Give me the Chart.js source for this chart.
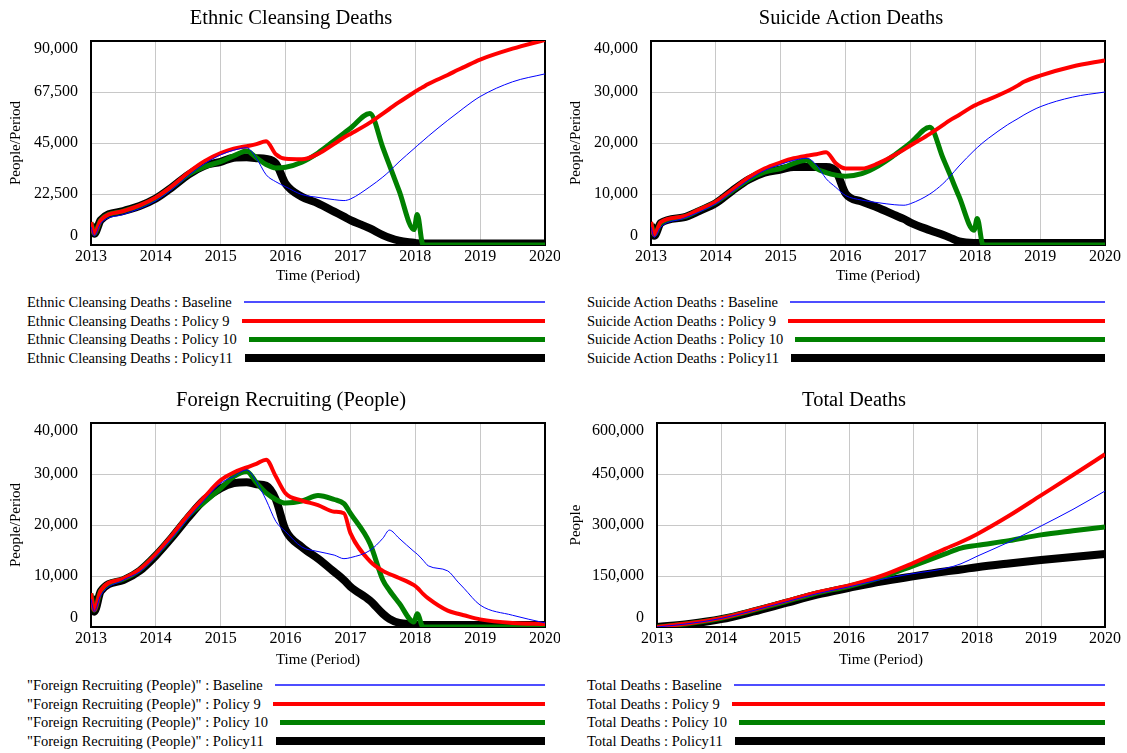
<!DOCTYPE html>
<html>
<head>
<meta charset="utf-8">
<script src="https://cdn.jsdelivr.net/npm/chart.js@4/dist/chart.umd.min.js"></script>
<style>
  body { margin: 0; background: #fff; width: 1127px; height: 753px; position: relative; overflow: hidden;
         font-family: "Liberation Serif", "Times New Roman", serif; }
  .panel { position: absolute; }
  .legend { position: absolute; width: 518px; font-size: 14.5px; color: #000; }
  .legend .row { display: flex; align-items: center; height: 18.7px; white-space: nowrap; }
  .legend .swatch { flex: 1; margin-left: 12px; }
</style>
</head>
<body>
<div class="panel" style="left:0;top:0;width:560px;height:286px"><canvas id="ecChart"></canvas></div>
<div class="panel" style="left:560px;top:0;width:567px;height:286px"><canvas id="saChart"></canvas></div>
<div class="panel" style="left:0;top:380px;width:560px;height:290px"><canvas id="frChart"></canvas></div>
<div class="panel" style="left:560px;top:380px;width:567px;height:290px"><canvas id="tdChart"></canvas></div>
<div class="legend" id="ecLegend" style="left:27px;top:293px"></div>
<div class="legend" id="saLegend" style="left:587px;top:293px"></div>
<div class="legend" id="frLegend" style="left:27px;top:676px"></div>
<div class="legend" id="tdLegend" style="left:587px;top:676px"></div>
<script>
// time samples (years) used by the first three charts
const times = [2013.00, 2013.05, 2013.15, 2013.5, 2013.75, 2014.0, 2014.25, 2014.5, 2014.75,
  2015.0, 2015.2, 2015.4, 2015.55, 2015.7, 2015.85, 2016.0, 2016.25, 2016.5, 2016.75, 2016.9,
  2017.0, 2017.3, 2017.5, 2017.6, 2017.75, 2017.98, 2018.03, 2018.12, 2018.2, 2018.5, 2018.66,
  2018.75, 2019.0, 2019.5, 2020.0];
const totalTimes = [2013, 2013.5, 2014, 2014.5, 2015, 2015.5, 2016, 2016.5, 2017, 2017.5, 2017.75,
  2018, 2018.5, 2019, 2019.5, 2020];

const runNames = ['Baseline', 'Policy 9', 'Policy 10', 'Policy11'];

// Ethnic Cleansing Deaths
const ecBaseline = [8000, 4000, 9500, 13500, 16000, 19500, 24500, 30500, 35800, 39800, 41800, 42900,
  38300, 31000, 27900, 25700, 22300, 21000, 20000, 19600, 20300, 25700, 30000, 32500, 36700, 42500,
  43800, 46000, 48000, 55000, 58500, 60500, 65500, 72000, 75500];
const ecPolicy9 = [10000, 5000, 11000, 15000, 17500, 21000, 26000, 32000, 37000, 40500, 42500, 43600,
  44500, 45800, 40000, 38000, 37800, 40200, 44600, 47400, 49000, 54000, 58000, 60000, 63000, 67300,
  68200, 69700, 71000, 75000, 77300, 78500, 81800, 86600, 90500];
const ecPolicy10 = [10000, 5000, 11000, 15000, 17300, 20700, 25700, 31000, 34500, 36800, 39300, 41500,
  38500, 35500, 34000, 34300, 36500, 40600, 46000, 49300, 51500, 58000, 43000, 35300, 24000, 6800,
  13500, 0, 0, 0, 0, 0, 0, 0, 0];
const ecPolicy11 = [9000, 5000, 11000, 15000, 17200, 20500, 25500, 31000, 35000, 36700, 38500, 38700,
  38300, 38000, 36000, 27000, 21300, 18400, 14700, 12500, 11000, 7300, 4400, 3200, 1900, 1000,
  800, 700, 700, 700, 700, 700, 700, 700, 700];

// Suicide Action Deaths
const saBaseline = [3500, 1500, 3500, 5200, 6500, 8100, 10400, 12700, 14600, 15800, 16600, 17000,
  15700, 13000, 11300, 9700, 8800, 8300, 7900, 7800, 8100, 10000, 12000, 13300, 15500, 18500,
  19100, 20100, 20900, 23600, 24800, 25500, 27100, 29000, 30000];
const saPolicy9 = [4500, 2000, 4500, 5600, 7000, 8500, 10800, 13200, 15000, 16200, 17000, 17500,
  17800, 18200, 16000, 15000, 15000, 16000, 17600, 18700, 19500, 21800, 23500, 24400, 25500, 27300,
  27600, 28100, 28500, 30200, 31300, 32000, 33200, 35000, 36200];
const saPolicy10 = [4300, 2000, 4300, 5500, 6900, 8400, 10600, 12800, 14300, 15000, 16000, 16600,
  15000, 14200, 13700, 13500, 14000, 15500, 17600, 19000, 20000, 23100, 17100, 14100, 9500, 2900,
  5200, 0, 0, 0, 0, 0, 0, 0, 0];
const saPolicy11 = [4000, 1800, 4300, 5400, 6700, 8200, 10600, 12800, 14200, 14800, 15300, 15300,
  15300, 15300, 14500, 10100, 8500, 7300, 5900, 5100, 4400, 2900, 2000, 1500, 700, 400,
  400, 400, 400, 400, 400, 400, 400, 400, 400];

// Foreign Recruiting (People)
const frBaseline = [5500, 3000, 6200, 9200, 10800, 13800, 17400, 21300, 24900, 28200, 29500, 30800,
  28500, 24900, 20700, 18700, 15700, 14800, 14100, 13400, 13600, 15000, 17400, 19000, 17400, 14800,
  14300, 13100, 12000, 11000, 8800, 7600, 4300, 2300, 800];
const frPolicy9 = [6600, 3300, 7200, 9500, 11300, 14300, 18000, 22000, 25500, 28800, 30300, 31300,
  32000, 32800, 29500, 26200, 24800, 23900, 22600, 22300, 18400, 12900, 11000, 10400, 9600, 8200,
  7700, 6500, 5600, 3200, 2600, 2300, 1500, 800, 600];
const frPolicy10 = [6500, 3300, 7100, 9400, 11200, 14200, 17800, 21800, 24500, 27200, 29500, 30500,
  28300, 26300, 25000, 24300, 24700, 25800, 25000, 24200, 22300, 16400, 9200, 7200, 4700, 1000,
  2600, 0, 0, 0, 0, 0, 0, 0, 0];
const frPolicy11 = [6000, 3000, 7000, 9200, 11000, 14000, 17600, 21500, 25000, 27200, 28200, 28400,
  28000, 27700, 25000, 19000, 15700, 13400, 10800, 9200, 7900, 5200, 2600, 1600, 800, 500,
  400, 400, 400, 400, 400, 400, 400, 400, 400];

// Total Deaths
const tdBaseline = [0, 10000, 25000, 48000, 73000, 98000, 118000, 140000, 157000, 172000, 186000,
  208000, 250000, 297000, 346000, 400000];
const tdPolicy9 = [0, 11000, 26000, 50000, 76000, 102000, 122000, 150000, 188000, 230000, 250000,
  273000, 327000, 387000, 447000, 508000];
const tdPolicy10 = [0, 10500, 25500, 49000, 74000, 100000, 120000, 146000, 180000, 215000, 232000,
  240000, 254000, 271000, 283000, 294000];
const tdPolicy11 = [0, 9000, 23000, 45000, 70000, 95000, 115000, 134000, 149000, 163000, 169000,
  176000, 187000, 197000, 206000, 215000];

// line look for each run (baseline drawn on top)
const runColors = ['#0000ff', '#ff0000', '#008000', '#000000'];
const legendColors = ['#4d4dff', '#ff0000', '#008000', '#000000'];
const runWidths = [1, 4, 5, 8];
const legendWidths = [2, 4, 5, 8];

Chart.defaults.font.family = '"Liberation Serif", "Times New Roman", serif';
Chart.defaults.color = '#000';

// Vensim style: frame, title and y labels kept inside the frame
const vensimPlugin = {
    id: 'vensim',
    beforeDatasetsDraw(chart) {
        const {ctx, chartArea: a} = chart;
        ctx.save();
        ctx.strokeStyle = '#000';
        ctx.lineWidth = 2;
        ctx.strokeRect(a.left, a.top, a.right - a.left, a.bottom - a.top);
        ctx.restore();
    },
    afterDraw(chart, args, opts) {
        const {ctx, chartArea: a} = chart;
        const y = chart.scales.y;
        ctx.save();
        ctx.fillStyle = '#000';
        ctx.font = '16px "Liberation Serif"';
        ctx.textAlign = 'right';
        ctx.textBaseline = 'middle';
        y.ticks.forEach(t => {
            let py = y.getPixelForValue(t.value);
            py = Math.min(Math.max(py, a.top + 8), a.bottom - 9);
            ctx.fillText(t.value.toLocaleString('en-US'), a.left - 13, py);
        });
        ctx.font = '20.5px "Liberation Serif"';
        ctx.textAlign = 'center';
        ctx.fillText(opts.text, (a.left + a.right) / 2 - 27, a.top - 22);
        ctx.restore();
    }
};

function makeChart(id, title, yTitle, xs, series, yMax, yStep, box) {
    const datasets = series.map((vals, i) => ({
        label: runNames[i],
        data: xs.map((t, j) => ({x: t, y: vals[j]})),
        borderColor: runColors[i],
        borderWidth: runWidths[i],
        pointRadius: 0,
        cubicInterpolationMode: 'monotone',
        fill: false
    }));
    return new Chart(document.getElementById(id), {
        type: 'line',
        data: {datasets: datasets},
        plugins: [vensimPlugin],
        options: {
            responsive: true,
            maintainAspectRatio: false,
            animation: false,
            layout: {padding: {top: box.top, right: box.right, left: 0, bottom: 0}},
            plugins: {
                legend: {display: false},
                tooltip: {enabled: false},
                vensim: {text: title}
            },
            scales: {
                x: {
                    type: 'linear',
                    min: 2013,
                    max: 2020,
                    ticks: {stepSize: 1, padding: 2, font: {size: 16}, callback: v => String(v)},
                    grid: {color: '#c8c8c8', drawTicks: false},
                    border: {display: false},
                    title: {display: true, text: 'Time (Period)', font: {size: 15}, padding: {top: 0, bottom: 1}},
                    afterFit: s => { s.height = box.xh; s.paddingLeft = 0; s.paddingRight = 0; }
                },
                y: {
                    min: 0,
                    max: yMax,
                    ticks: {stepSize: yStep, display: false},
                    grid: {color: '#c8c8c8', drawTicks: false},
                    border: {display: false},
                    title: {display: true, text: yTitle, font: {size: 15}, padding: {top: 7, bottom: 0}},
                    afterFit: s => { s.width = box.yw; }
                }
            }
        }
    });
}

function makeLegend(id, prefix) {
    const el = document.getElementById(id);
    runNames.forEach((name, i) => {
        const row = document.createElement('div');
        row.className = 'row';
        const label = document.createElement('span');
        label.textContent = `${prefix} : ${name}`;
        const swatch = document.createElement('div');
        swatch.className = 'swatch';
        swatch.style.height = legendWidths[i] + 'px';
        swatch.style.background = legendColors[i];
        row.appendChild(label);
        row.appendChild(swatch);
        el.appendChild(row);
    });
}

makeChart('ecChart', 'Ethnic Cleansing Deaths', 'People/Period', times,
    [ecBaseline, ecPolicy9, ecPolicy10, ecPolicy11], 90000, 22500, {top: 41, right: 15, xh: 41, yw: 91});
makeChart('saChart', 'Suicide Action Deaths', 'People/Period', times,
    [saBaseline, saPolicy9, saPolicy10, saPolicy11], 40000, 10000, {top: 41, right: 22, xh: 41, yw: 91});
makeChart('frChart', 'Foreign Recruiting (People)', 'People/Period', times,
    [frBaseline, frPolicy9, frPolicy10, frPolicy11], 40000, 10000, {top: 43, right: 15, xh: 43, yw: 91});
makeChart('tdChart', 'Total Deaths', 'People', totalTimes,
    [tdBaseline, tdPolicy9, tdPolicy10, tdPolicy11], 600000, 150000, {top: 43, right: 22, xh: 43, yw: 97});

makeLegend('ecLegend', 'Ethnic Cleansing Deaths');
makeLegend('saLegend', 'Suicide Action Deaths');
makeLegend('frLegend', '"Foreign Recruiting (People)"');
makeLegend('tdLegend', 'Total Deaths');
</script>
</body>
</html>
